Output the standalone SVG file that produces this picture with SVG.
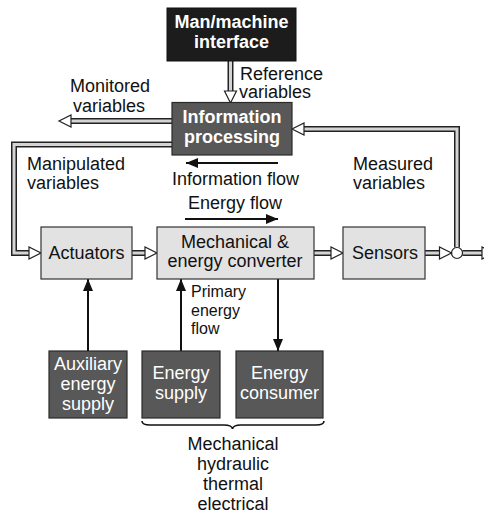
<svg xmlns="http://www.w3.org/2000/svg" width="484" height="514" viewBox="0 0 484 514">
  <defs>
    <style>
      text { font-family: "Liberation Sans", Arial, Helvetica, sans-serif; font-size: 18px; fill: #111; }
      .mid { text-anchor: middle; }
      .light { fill: #fff; }
      .bold { font-weight: bold; }
      .small { font-size: 16px; }
      .box-black { fill: #1c1c1c; stroke: #111; stroke-width: 1; }
      .box-dark { fill: #585858; stroke: #2a2a2a; stroke-width: 1.2; }
      .box-light { fill: #e2e2e2; stroke: #333; stroke-width: 1.2; }
      .pipe-outer { fill: none; stroke: #222; stroke-width: 6; }
      .pipe-inner { fill: none; stroke: #d4d4d4; stroke-width: 3; }
      .open-head { fill: #fff; stroke: #222; stroke-width: 1.2; stroke-linejoin: miter; }
      .flow { fill: none; stroke: #111; stroke-width: 2; }
    </style>
    <marker id="solid" viewBox="0 0 12 10" refX="12" refY="5" markerWidth="12" markerHeight="10" markerUnits="userSpaceOnUse" orient="auto">
      <path d="M0 0 L12 5 L0 10 Z" fill="#111"/>
    </marker>
  </defs>

  <!-- signal pipes (double lines) and energy arrows -->
  <g id="connectors">
    <g class="pipes">
      <path class="pipe-outer" d="M230.5 61 V92"/>
      <path class="pipe-inner" d="M230.5 61 V92"/>
      <path class="pipe-outer" d="M172 121 H70"/>
      <path class="pipe-inner" d="M172 121 H70"/>
      <path class="pipe-outer" d="M172 144.5 H14 V253 H30"/>
      <path class="pipe-inner" d="M172 144.5 H14 V253 H30"/>
      <path class="pipe-outer" d="M132 253 H146"/>
      <path class="pipe-inner" d="M132 253 H146"/>
      <path class="pipe-outer" d="M314 253 H332"/>
      <path class="pipe-inner" d="M314 253 H332"/>
      <path class="pipe-outer" d="M425 253 H440"/>
      <path class="pipe-inner" d="M425 253 H440"/>
      <path class="pipe-outer" d="M457 247.5 V129 H303"/>
      <path class="pipe-inner" d="M457 247.5 V129 H303"/>
      <path class="pipe-outer" d="M462.5 253 H483"/>
      <path class="pipe-inner" d="M462.5 253 H483"/>
      <circle cx="457" cy="253" r="5.5" fill="#fff" stroke="#222" stroke-width="1.2"/>
      <!-- open arrowheads -->
      <polygon class="open-head" points="224.5,91 236.5,91 230.5,103"/>
      <polygon class="open-head" points="71,115 71,127 59,121"/>
      <polygon class="open-head" points="29,247 29,259 41,253"/>
      <polygon class="open-head" points="145,247 145,259 157,253"/>
      <polygon class="open-head" points="331,247 331,259 343,253"/>
      <polygon class="open-head" points="439.5,247 439.5,259 451.5,253"/>
      <polygon class="open-head" points="304,123 304,135 292,129"/>
      <polygon class="open-head" points="482,247 482,259 494,253"/>
    </g>
    <g class="energy">
      <line class="flow" x1="278" y1="163" x2="186" y2="163" marker-end="url(#solid)"/>
      <line class="flow" x1="185" y1="219" x2="278" y2="219" marker-end="url(#solid)"/>
      <line class="flow" x1="88" y1="351" x2="88" y2="279" marker-end="url(#solid)"/>
      <line class="flow" x1="181" y1="351" x2="181" y2="279" marker-end="url(#solid)"/>
      <line class="flow" x1="278" y1="279" x2="278" y2="351" marker-end="url(#solid)"/>
    </g>
    <path d="M142 421 Q142 425 150 425 H224 Q232 425 232.5 429 Q233 425 241 425 H316 Q324 425 324 421" fill="none" stroke="#111" stroke-width="1.6"/>
  </g>

  <g id="man-machine-interface">
    <rect class="box-black" x="167" y="8" width="129" height="53"/>
    <text class="mid light bold" x="231.5" y="28">Man/machine</text>
    <text class="mid light bold" x="231.5" y="48">interface</text>
  </g>

  <g id="information-processing">
    <rect class="box-dark" x="172" y="102.5" width="120" height="52.5"/>
    <text class="mid light bold" x="232" y="123">Information</text>
    <text class="mid light bold" x="232" y="143">processing</text>
  </g>

  <g id="actuators">
    <rect class="box-light" x="41" y="227" width="91" height="52"/>
    <text class="mid" x="86.5" y="259">Actuators</text>
  </g>

  <g id="mechanical-energy-converter">
    <rect class="box-light" x="157" y="227" width="157" height="52"/>
    <text class="mid" x="235" y="248">Mechanical &amp;</text>
    <text class="mid" x="235" y="267">energy converter</text>
  </g>

  <g id="sensors">
    <rect class="box-light" x="343" y="227" width="82" height="52"/>
    <text class="mid" x="385" y="259">Sensors</text>
  </g>

  <g id="auxiliary-energy-supply">
    <rect class="box-dark" x="49" y="351" width="78" height="67"/>
    <text class="mid light" x="88" y="370">Auxiliary</text>
    <text class="mid light" x="88" y="390">energy</text>
    <text class="mid light" x="88" y="410">supply</text>
  </g>

  <g id="energy-supply">
    <rect class="box-dark" x="142" y="351" width="78" height="67"/>
    <text class="mid light" x="181" y="379">Energy</text>
    <text class="mid light" x="181" y="399">supply</text>
  </g>

  <g id="energy-consumer">
    <rect class="box-dark" x="236" y="351" width="87" height="67"/>
    <text class="mid light" x="279.5" y="379">Energy</text>
    <text class="mid light" x="279.5" y="399">consumer</text>
  </g>

  <g id="labels">
    <text x="240" y="80">Reference</text>
    <text x="239" y="98">variables</text>
    <text class="mid" x="110" y="92">Monitored</text>
    <text class="mid" x="109" y="112">variables</text>
    <text x="27" y="170">Manipulated</text>
    <text x="27" y="189">variables</text>
    <text x="353" y="170">Measured</text>
    <text x="353" y="189">variables</text>
    <text class="mid" x="235.5" y="185">Information flow</text>
    <text class="mid" x="235" y="209">Energy flow</text>
    <text class="small" x="191" y="297">Primary</text>
    <text class="small" x="191" y="315.5">energy</text>
    <text class="small" x="191" y="334">flow</text>
    <text class="mid" x="233" y="450">Mechanical</text>
    <text class="mid" x="233" y="470">hydraulic</text>
    <text class="mid" x="233" y="490">thermal</text>
    <text class="mid" x="233" y="510">electrical</text>
  </g>
</svg>
